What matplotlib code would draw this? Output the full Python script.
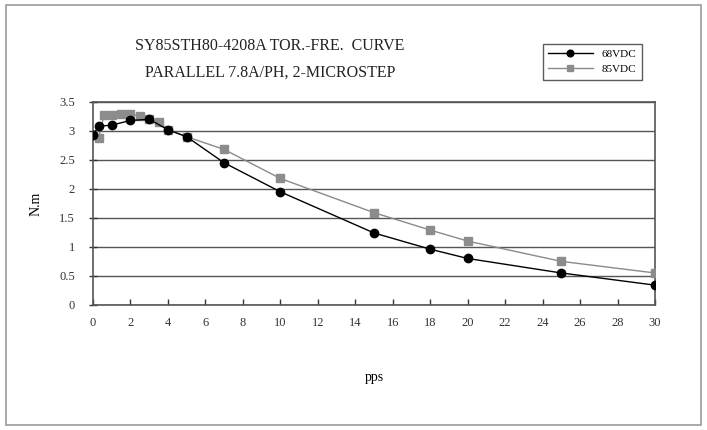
import matplotlib
matplotlib.use("Agg")
import matplotlib.pyplot as plt
from matplotlib.patches import Rectangle

# Data
x_68 = [0, 0.3, 1, 2, 3, 4, 5, 7, 10, 15, 18, 20, 25, 30]
y_68 = [2.93, 3.08, 3.1, 3.18, 3.2, 3.02, 2.9, 2.45, 1.95, 1.24, 0.96, 0.8, 0.55, 0.34]
x_85 = [0, 0.3, 0.6, 1, 1.5, 2, 2.5, 3, 3.5, 4, 5, 7, 10, 15, 18, 20, 25, 30]
y_85 = [2.93, 2.88, 3.28, 3.28, 3.3, 3.3, 3.25, 3.2, 3.15, 3.02, 2.9, 2.68, 2.18, 1.59, 1.29, 1.1, 0.75, 0.55]
x_ticks = list(range(0, 31, 2))
y_ticks = [0, 0.5, 1, 1.5, 2, 2.5, 3, 3.5]
y_tick_labels = ["0", "0.5", "1", "1.5", "2", "2.5", "3", "3.5"]
title_lines = ["SY85STH80-4208A TOR.-FRE.  CURVE", "PARALLEL 7.8A/PH, 2-MICROSTEP"]
series_names = ["68VDC", "85VDC"]

plt.rcParams['font.family'] = ['Liberation Serif', 'DejaVu Serif']

fig = plt.figure(figsize=(7.07, 4.30), dpi=100)
fig.patches.append(Rectangle((0.008, 0.012), 0.984, 0.976, transform=fig.transFigure,
                             fill=False, edgecolor='#9a9a9a', linewidth=1.2))
ax = fig.add_axes([0.1315, 0.291, 0.795, 0.472])

ax.plot(x_68, y_68, color='black', linewidth=1.0, marker='o', markersize=6,
        markerfacecolor='black', markeredgecolor='black', label=series_names[0], zorder=4)
ax.plot(x_85, y_85, color='#8a8a8a', linewidth=1.0, marker='s', markersize=6,
        markerfacecolor='#8c8c8c', markeredgecolor='#8c8c8c', label=series_names[1], zorder=3)

ax.set_xlim(0, 30)
ax.set_ylim(0, 3.5)
ax.set_xticks(x_ticks)
ax.set_xticklabels([str(v) for v in x_ticks], fontsize=9)
ax.set_yticks(y_ticks)
ax.set_yticklabels(y_tick_labels, fontsize=9)
ax.tick_params(axis='x', direction='in', length=4, width=1, colors='#333333', pad=9)
ax.tick_params(axis='y', direction='inout', length=6, width=1, colors='#333333', pad=10)
ax.yaxis.grid(True, color='#555555', linewidth=1.0)
ax.set_axisbelow(True)
for s in ax.spines.values():
    s.set_color('#555555')
    s.set_linewidth(1.2)

ax.set_xlabel("pps", fontsize=10, labelpad=30)
ax.set_ylabel("N.m", fontsize=10, labelpad=12)

fig.text(0.382, 0.893, title_lines[0], ha='center', va='center', fontsize=11.5, color='#222222')
fig.text(0.382, 0.830, title_lines[1], ha='center', va='center', fontsize=11.5, color='#222222')

leg = ax.legend(loc='upper left', bbox_to_anchor=(0.79, 1.315), bbox_transform=ax.transAxes,
                fontsize=8, frameon=True, fancybox=False, edgecolor='#333333',
                handlelength=4.0, borderpad=0.5, labelspacing=0.5, markerscale=0.8)
leg.get_frame().set_linewidth(1.0)

fig.savefig("out.png", dpi=100)
